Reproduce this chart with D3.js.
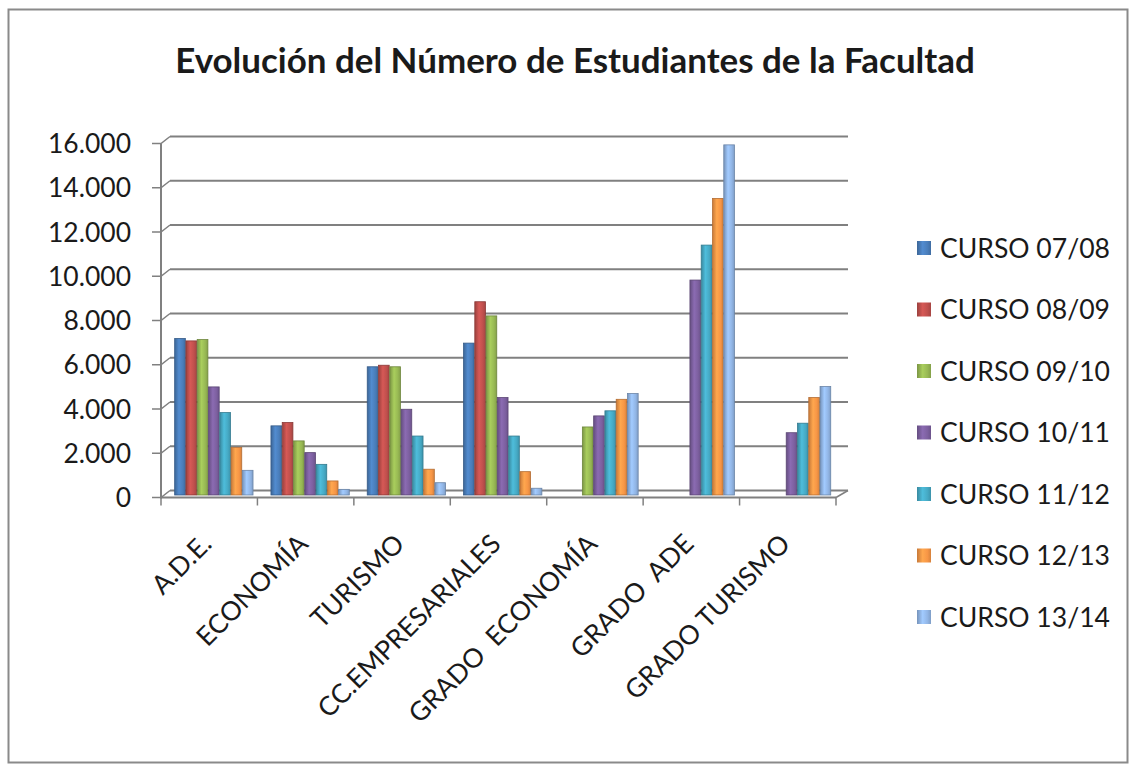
<!DOCTYPE html>
<html>
<head>
<meta charset="utf-8">
<script src="https://cdn.jsdelivr.net/npm/d3@7/dist/d3.min.js"></script>
<style>
  html, body { margin: 0; padding: 0; background: #ffffff; }
  svg { display: block; }
  text { font-family: Lato, "Noto Sans", "DejaVu Sans", sans-serif; fill: #1a1a1a; }
</style>
</head>
<body>
<svg id="chart" width="1136" height="769"></svg>
<script>
// ---------------- DATA ----------------
const title = "Evolución del Número de Estudiantes de la Facultad";
const categories = ["A.D.E.", "ECONOMÍA", "TURISMO", "CC.EMPRESARIALES", "GRADO  ECONOMÍA", "GRADO  ADE", "GRADO TURISMO"];
const seriesNames = ["CURSO 07/08", "CURSO 08/09", "CURSO 09/10", "CURSO 10/11", "CURSO 11/12", "CURSO 12/13", "CURSO 13/14"];
const curso0708 = [7030, 3080, 5750, 6820, null, null, null];
const curso0809 = [6920, 3230, 5820, 8690, null, null, null];
const curso0910 = [6980, 2400, 5750, 8050, 3030, null, null];
const curso1011 = [4840, 1870, 3830, 4360, 3530, 9670, 2770];
const curso1112 = [3680, 1340, 2620, 2620, 3760, 11250, 3200];
const curso1213 = [2100, 590, 1120, 1010, 4280, 13360, 4360];
const curso1314 = [1070, 210, 510, 260, 4540, 15780, 4860];
const seriesValues = [curso0708, curso0809, curso0910, curso1011, curso1112, curso1213, curso1314];
const yTicks = [0, 2000, 4000, 6000, 8000, 10000, 12000, 14000, 16000];
const yTickLabels = ["0", "2.000", "4.000", "6.000", "8.000", "10.000", "12.000", "14.000", "16.000"];

// ---------------- STYLE ----------------
const colors = ["#4a7ebb", "#c0504d", "#98b954", "#7d60a0", "#46aac5", "#f79646", "#92b6e6"];
const svg = d3.select("#chart");

// frame
svg.append("rect").attr("x", 8.5).attr("y", 9.5).attr("width", 1119).attr("height", 753)
  .attr("fill", "#ffffff").attr("stroke", "#8a8a8a").attr("stroke-width", 2);

// depth offset (pseudo 3D)
const depthDx = 9;
const frontX = 161;
const backRight = 848;
const y = d3.scaleLinear().domain([0, 16000]).range([494, 140]);
const yFront = v => y(v) + 3.5;
const yBack = v => y(v) - 3.5;

const x0 = d3.scaleBand().domain(categories).range([166, 840]).paddingInner(0.18).paddingOuter(0.09);
const x1 = d3.scaleBand().domain(seriesNames).range([0, x0.bandwidth()]);
// category boundaries on front axis
const xCat = d3.scaleBand().domain(categories).range([frontX, 836]);

// gradients
const defs = svg.append("defs");
colors.forEach((c, i) => {
  const g = defs.append("linearGradient").attr("id", "g" + i).attr("x1", "0").attr("x2", "1").attr("y1", "0").attr("y2", "0");
  const base = d3.color(c);
  g.append("stop").attr("offset", "0%").attr("stop-color", base.darker(0.6));
  g.append("stop").attr("offset", "40%").attr("stop-color", base.brighter(0.3));
  g.append("stop").attr("offset", "75%").attr("stop-color", base);
  g.append("stop").attr("offset", "100%").attr("stop-color", base.darker(0.4));
});

const gridColor = "#808080";
// back wall gridlines
svg.append("g").selectAll("line").data(yTicks).join("line")
  .attr("x1", frontX + depthDx).attr("x2", backRight)
  .attr("y1", d => yBack(d)).attr("y2", d => yBack(d))
  .attr("stroke", gridColor).attr("stroke-width", 2);
// side wall diagonals + ticks
svg.append("g").selectAll("path").data(yTicks).join("path")
  .attr("d", d => `M${frontX - 9},${yFront(d)} L${frontX},${yFront(d)} L${frontX + depthDx},${yBack(d)}`)
  .attr("fill", "none").attr("stroke", gridColor).attr("stroke-width", 1.5);
// front vertical axis
svg.append("line").attr("x1", frontX).attr("x2", frontX)
  .attr("y1", yFront(16000)).attr("y2", yFront(0) + 1)
  .attr("stroke", gridColor).attr("stroke-width", 2);

// bars
const gBars = svg.append("g");
categories.forEach((cat, ci) => {
  seriesValues.forEach((vals, si) => {
    const v = vals[ci];
    if (v == null) return;
    const bx = x0(cat) + x1(seriesNames[si]);
    const bw = x1.bandwidth() - 0.6;
    gBars.append("rect")
      .attr("x", bx).attr("y", y(v))
      .attr("width", bw).attr("height", y(0) + 1 - y(v))
      .attr("fill", `url(#g${si})`)
      .attr("stroke", d3.color(colors[si]).darker(0.9)).attr("stroke-width", 0.8);
  });
});

// front floor edge & category ticks
svg.append("line").attr("x1", frontX).attr("x2", 836)
  .attr("y1", yFront(0)).attr("y2", yFront(0))
  .attr("stroke", gridColor).attr("stroke-width", 2);
svg.append("line").attr("x1", 836).attr("x2", backRight)
  .attr("y1", yFront(0)).attr("y2", yBack(0))
  .attr("stroke", gridColor).attr("stroke-width", 1.5);
const bounds = categories.map(c => xCat(c)).concat([836]);
svg.append("g").selectAll("line").data(bounds).join("line")
  .attr("x1", d => d).attr("x2", d => d)
  .attr("y1", yFront(0)).attr("y2", yFront(0) + 8)
  .attr("stroke", gridColor).attr("stroke-width", 1.5);

// helper: fit font size to target width
function fitSize(str, weight, target) {
  const t = svg.append("text").attr("font-size", 100).attr("font-weight", weight).style("white-space", "pre").text(str);
  const w = t.node().getComputedTextLength();
  t.remove();
  return 100 * target / w;
}

// y labels
const yLabelSize = fitSize("16.000", "normal", 83);
svg.append("g").selectAll("text").data(yTicks).join("text")
  .attr("x", 131).attr("y", d => yFront(d)).attr("dy", "0.36em")
  .attr("text-anchor", "end").attr("font-size", yLabelSize)
  .text((d, i) => yTickLabels[i]);

// x labels
const xLabelSize = yLabelSize * 1.0;
svg.append("g").selectAll("text").data(categories).join("text")
  .attr("transform", d => `translate(${xCat(d) + xCat.bandwidth() / 2 + 4},${yFront(0) + 48}) rotate(-45)`)
  .attr("text-anchor", "end").attr("font-size", xLabelSize)
  .style("white-space", "pre")
  .text(d => d);

// title
const titleSize = fitSize(title, "bold", 800);
svg.append("text").attr("x", 575).attr("y", 73).attr("text-anchor", "middle")
  .attr("font-weight", "bold").attr("font-size", titleSize).text(title);

// legend
const legSize = fitSize("CURSO 07/08", "normal", 170);
const leg = svg.append("g");
seriesNames.forEach((s, i) => {
  const ly = 248 + i * 61.5;
  leg.append("rect").attr("x", 917).attr("y", ly - 7).attr("width", 14).attr("height", 14)
    .attr("fill", `url(#g${i})`);
  leg.append("text").attr("x", 940).attr("y", ly).attr("dy", "0.36em")
    .attr("font-size", legSize).text(s);
});
</script>
</body>
</html>
